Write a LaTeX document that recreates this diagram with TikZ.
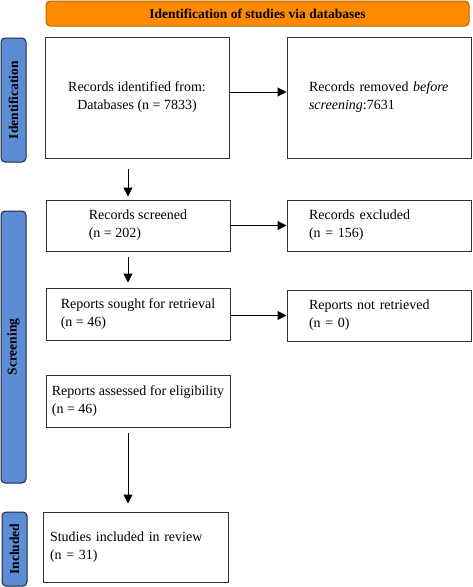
\documentclass[tikz,border=0pt]{standalone}
\usepackage{fontspec}
\setmainfont{Liberation Serif}
\usetikzlibrary{arrows.meta}
\definecolor{hdrorange}{HTML}{FF8A00}
\definecolor{hdredge}{HTML}{B86200}
\definecolor{sideblue}{HTML}{5B8CD4}
\definecolor{sideedge}{HTML}{1E2A3C}
\definecolor{boxedge}{HTML}{333333}
\tikzset{
  box/.style={draw=boxedge, line width=1pt, fill=white, inner sep=0pt,
    minimum width=184pt, font=\fontsize{14}{18}\selectfont},
  side/.style={draw=sideedge, fill=sideblue, line width=1pt, rounded corners=4pt,
    minimum height=25pt, inner sep=0pt, rotate=90, font=\fontsize{13.5}{16}\selectfont\bfseries},
  arr/.style={line width=1pt, -{Triangle[length=9pt,width=9pt]}},
}
\begin{document}
\begin{tikzpicture}[x=1pt,y=-1pt]
\useasboundingbox (0,0) rectangle (472,587);
% header
\node[draw=hdredge, fill=hdrorange, line width=1pt, rounded corners=4pt,
  minimum width=423pt, minimum height=25pt, inner sep=0pt,
  font=\fontsize{13.5}{16}\selectfont\bfseries] (hdr) at (257.5,13.5)
  {Identification of studies via databases};
% side labels
\node[side, minimum width=124pt] (sid) at (13.5,100) {Identification};
\node[side, minimum width=272pt] (ssc) at (13.5,347) {Screening};
\node[side, minimum width=74pt] (sin) at (14.5,549) {Included};
% boxes
\node[box, minimum height=121pt, align=center] (b1) at (137,97.5)
  {Records identified from:\\Databases (n = 7833)};
\node[box, minimum height=121pt, text width=140pt, align=left] (b2) at (379,97.5)
  {Records removed \textit{before}\\\textit{screening}:7631};
\node[box, minimum height=51pt, align=left] (scr) at (138,225.5)
  {Records screened\\(n = 202)};
\node[box, minimum height=51pt, text width=140pt, align=left] (exc) at (379,225.5)
  {Records excluded\\(n = 156)};
\node[box, minimum height=52pt, align=left] (sou) at (138,314)
  {Reports sought for retrieval\\(n = 46)};
\node[box, minimum height=51pt, text width=140pt, align=left] (nrt) at (379,315.5)
  {Reports not retrieved\\(n = 0)};
\node[box, minimum height=52pt, align=left] (ass) at (138,401)
  {Reports assessed for eligibility\\(n = 46)};
\node[box, minimum height=70pt, minimum width=185pt, text width=171pt, align=left] (inc) at (135.5,547)
  {Studies included in review\\(n = 31)};
% arrows
\coordinate (ax) at (128,0);
\draw[arr] ([yshift=5.5pt]b1.east) -- ([yshift=5.5pt]b2.west);
\draw[arr] (scr.east) -- (exc.west |- scr.east);
\draw[arr] (sou.east |- nrt.west) -- (nrt.west);
\draw[arr, shorten <=10pt, shorten >=3pt] (b1.south -| ax) -- (scr.north -| ax);
\draw[arr, shorten <=5pt, shorten >=5pt] (scr.south -| ax) -- (sou.north -| ax);
\draw[arr, shorten <=5pt, shorten >=8pt] (ass.south -| ax) -- (inc.north -| ax);
\end{tikzpicture}
\end{document}
